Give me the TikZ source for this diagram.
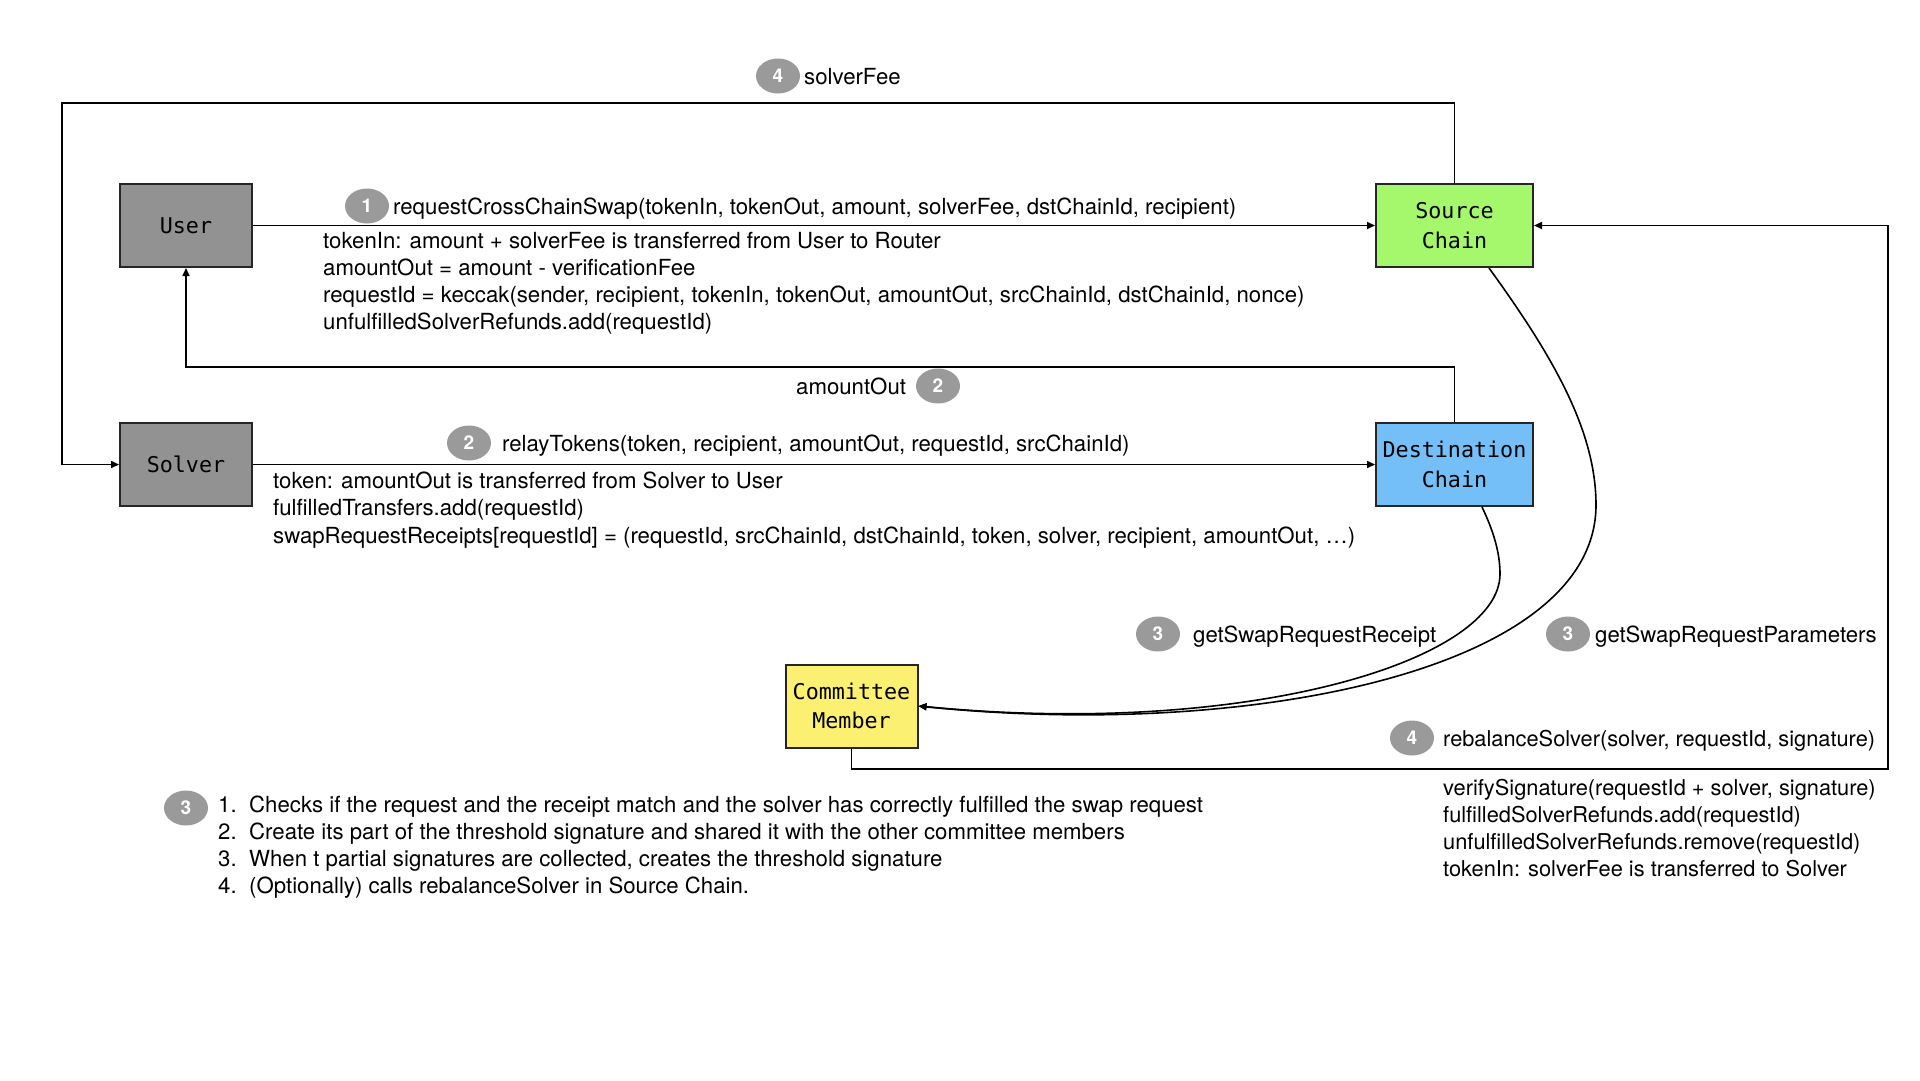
\documentclass[tikz,border=0pt]{standalone}
\usepackage{fontspec}
\setmainfont{TeX Gyre Heros}
\setmonofont{DejaVu Sans Mono}
\usetikzlibrary{arrows.meta,shapes.geometric,calc}
\definecolor{boxgray}{HTML}{929292}
\definecolor{badgegray}{HTML}{9A9A9A}
\definecolor{srcgreen}{HTML}{A5F76C}
\definecolor{dstblue}{HTML}{74BFF8}
\definecolor{cmyellow}{HTML}{FCF073}
\begin{document}
\begin{tikzpicture}[x=1pt,y=-1pt,
  entity/.style={draw=black!85,line width=2pt,minimum width=132pt,minimum height=83pt,inner sep=0pt,align=center,
    font=\ttfamily\fontsize{21.7}{29.4}\selectfont},
  chain/.style={entity,minimum width=157pt},
  badge/.style={ellipse,fill=badgegray,minimum width=44pt,minimum height=35pt,inner sep=0pt,text=white,
    font=\bfseries\fontsize{19}{22}\selectfont},
  lbl/.style={anchor=base west,inner sep=0pt,font=\fontsize{22.2}{27}\selectfont},
  blk/.style={anchor=base west,inner sep=0pt,align=left},
  conn/.style={line width=1.6pt,black},
  arr/.style={conn,-{Triangle[length=8pt,width=7pt]}}]
\useasboundingbox (0,0) rectangle (1920,1080);
\fill[white] (0,0) rectangle (1920,1080);

% entities
\node[entity,fill=boxgray] (user) at (186,225.5) {User};
\node[entity,fill=boxgray] (solver) at (186,464.5) {Solver};
\node[chain,fill=srcgreen] (src) at (1454.5,225.5) {Source\\Chain};
\node[chain,fill=dstblue] (dst) at (1454.5,464.5) {Destination\\Chain};
\node[entity,fill=cmyellow] (cm) at (851.5,706) {Committee\\Member};

% helper coordinates
\coordinate (tl) at (62,103);
\coordinate (ret) at (1454.5,367);
\coordinate (br) at (1888,769);

% connectors
\draw[arr] (user.east) -- (src.west);
\draw[arr] (solver.east) -- (dst.west);
\draw[arr] (src.north) |- (tl) |- (solver.west);
\draw[arr] (dst.north) -- (ret) -| (user.south);
\draw[arr] (cm.south) |- (br) |- (src.east);
\draw[arr] ($(src.south)+(34.5,0)$) .. controls (1552,355) and (1596,430) .. (1596,505)
   .. controls (1596,670) and (1250,740) .. (cm.east);
\draw[arr] ($(dst.south)+(27.5,0)$) .. controls (1493,530) and (1500,552) .. (1500,574)
   .. controls (1500,660) and (1250,738) .. (cm.east);

% badges
\node[badge] (b4a) at (778,76) {4};
\node[badge] (b1) at (367,206) {1};
\node[badge] (b2a) at (938,386) {2};
\node[badge] (b2b) at (469,443) {2};
\node[badge] (b3a) at (1158,634) {3};
\node[badge] (b3b) at (1568,634) {3};
\node[badge] (b4b) at (1412,738) {4};
\node[badge] (b3c) at (186,808) {3};

% labels
\node[lbl] (l4a) at (804,84) {solverFee};
\node[lbl] (l1) at (393,214) {requestCrossChainSwap(tokenIn, tokenOut, amount, solverFee, dstChainId, recipient)};
\node[lbl] (l2a) at (796,394) {amountOut};
\node[lbl] (l2b) at (502,451) {relayTokens(token, recipient, amountOut, requestId, srcChainId)};
\node[lbl] (l3a) at (1193,642) {getSwapRequestReceipt};
\node[lbl] (l3b) at (1595,642) {getSwapRequestParameters};
\node[lbl,font=\fontsize{21.8}{27}\selectfont] (l4b) at (1443,746) {rebalanceSolver(solver, requestId, signature)};

% text blocks (anchored at the baseline of their last line)
\node[blk,font=\fontsize{22.2}{26.8}\selectfont] (t1) at (323,329) {tokenIn: amount + solverFee is transferred from User to Router\\
amountOut = amount - verificationFee\\
requestId = keccak(sender, recipient, tokenIn, tokenOut, amountOut, srcChainId, dstChainId, nonce)\\
unfulfilledSolverRefunds.add(requestId)};
\node[blk,font=\fontsize{22.2}{27.5}\selectfont] (t2) at (273,543) {token: amountOut is transferred from Solver to User\\
fulfilledTransfers.add(requestId)\\
swapRequestReceipts[requestId] = (requestId, srcChainId, dstChainId, token, solver, recipient, amountOut, …)};
\node[blk,font=\fontsize{21.8}{27}\selectfont] (t3) at (1443,876) {verifySignature(requestId + solver, signature)\\
fulfilledSolverRefunds.add(requestId)\\
unfulfilledSolverRefunds.remove(requestId)\\
tokenIn: solverFee is transferred to Solver};
\node[blk,font=\fontsize{22.2}{27}\selectfont] (t4) at (218,893) {\makebox[31pt][l]{1.}Checks if the request and the receipt match and the solver has correctly fulfilled the swap request\\
\makebox[31pt][l]{2.}Create its part of the threshold signature and shared it with the other committee members\\
\makebox[31pt][l]{3.}When t partial signatures are collected, creates the threshold signature\\
\makebox[31pt][l]{4.}(Optionally) calls rebalanceSolver in Source Chain.};
\end{tikzpicture}
\end{document}
